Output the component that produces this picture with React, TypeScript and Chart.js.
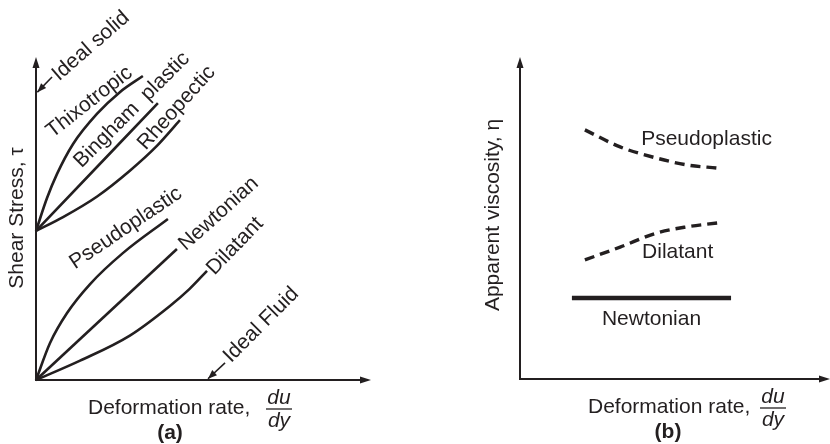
import React, { useEffect, useRef } from "react";
import { Chart, registerables } from "chart.js";
Chart.register(...registerables);

// ---------- Panel (a): shear stress vs deformation rate ----------
const thixotropicX = [0, 0.33, 0.63, 1.11, 1.83, 2.51, 3.2];
const thixotropicY = [4.63, 5.65, 6.4, 7.33, 8.27, 8.94, 9.44];
const binghamX = [0, 3.65];
const binghamY = [4.63, 8.6];
const rheopecticX = [0, 0.81, 1.83, 2.81, 3.62, 4.31];
const rheopecticY = [4.63, 5.06, 5.7, 6.5, 7.27, 8.07];
const pseudoAX = [0, 0.42, 0.93, 1.62, 2.6, 3.95];
const pseudoAY = [0, 1.15, 2.08, 2.98, 3.94, 5.0];
const newtonAX = [0, 4.22];
const newtonAY = [0, 4.07];
const dilatantAX = [0, 1.32, 2.81, 4.01, 4.6, 5.12];
const dilatantAY = [0, 0.6, 1.38, 2.3, 2.83, 3.39];

// ---------- Panel (b): apparent viscosity vs deformation rate ----------
const pseudoBX = [2.1, 3.24, 4.43, 5.4, 6.38];
const pseudoBY = [7.76, 7.23, 6.88, 6.67, 6.57];
const dilatantBX = [2.1, 3.24, 4.43, 5.4, 6.38];
const dilatantBY = [3.71, 4.11, 4.55, 4.74, 4.86];
const newtonBX = [1.68, 6.83];
const newtonBY = [2.52, 2.52];

// Curve labels (a), in data units, rotated
const labelsA = [
  { text: "Ideal solid", x: 1.64, y: 10.37, angle: -41 },
  { text: "Thixotropic", x: 1.6, y: 8.63, angle: -38 },
  { text: "Bingham  plastic", x: 2.87, y: 8.39, angle: -45 },
  { text: "Rheopectic", x: 4.21, y: 8.45, angle: -48 },
  { text: "Pseudoplastic", x: 2.69, y: 4.72, angle: -34 },
  { text: "Newtonian", x: 5.47, y: 5.16, angle: -42 },
  { text: "Dilatant", x: 5.96, y: 4.16, angle: -46 },
  { text: "Ideal Fluid", x: 6.74, y: 1.71, angle: -45 },
];
// Pointer arrows (a): [tailX, tailY, tipX, tipY]
const arrowsA = [
  [0.48, 9.41, 0.04, 8.94],
  [5.66, 0.53, 5.15, 0.04],
];
// Curve labels (b), left aligned
const labelsB = [
  { text: "Pseudoplastic", x: 3.92, y: 7.48, angle: 0 },
  { text: "Dilatant", x: 3.95, y: 3.96, angle: 0 },
  { text: "Newtonian", x: 2.65, y: 1.87, angle: 0 },
];

const INK = "#231f20";
const FONT = "'Liberation Sans', Arial, sans-serif";
const FS = 21;

const pts = (xs: number[], ys: number[]) => xs.map((x, i) => ({ x, y: ys[i] }));

function arrowHead(ctx: CanvasRenderingContext2D, fx: number, fy: number, tx: number, ty: number, len: number, half: number) {
  const a = Math.atan2(ty - fy, tx - fx);
  const bx = tx - Math.cos(a) * len;
  const by = ty - Math.sin(a) * len;
  ctx.beginPath();
  ctx.moveTo(tx, ty);
  ctx.lineTo(bx + Math.sin(a) * half, by - Math.cos(a) * half);
  ctx.lineTo(bx - Math.sin(a) * half, by + Math.cos(a) * half);
  ctx.closePath();
  ctx.fill();
}

type PanelProps = {
  panel: "a" | "b";
  datasets: any[];
  labels: { text: string; x: number; y: number; angle: number }[];
  arrows: number[][];
  yTitle: string;
  yTitleDx: number;
  yTitleY: number;
  xTitleDx: number;
  fracDx: number;
  captionDx: number;
  padding: { left: number; right: number; top: number; bottom: number };
};

function Panel(props: PanelProps) {
  const ref = useRef<HTMLCanvasElement | null>(null);
  useEffect(() => {
    if (!ref.current) return;
    const drawPlugin = {
      id: "decor",
      afterDraw(chart: any) {
        const ctx: CanvasRenderingContext2D = chart.ctx;
        const ca = chart.chartArea;
        const xs = chart.scales.x;
        const ys = chart.scales.y;
        ctx.save();
        ctx.strokeStyle = INK;
        ctx.fillStyle = INK;
        ctx.lineWidth = 2;
        // axes
        ctx.beginPath();
        ctx.moveTo(ca.left, ca.top + 4);
        ctx.lineTo(ca.left, ca.bottom);
        ctx.lineTo(ca.right - 4, ca.bottom);
        ctx.stroke();
        arrowHead(ctx, ca.left, ca.bottom, ca.left, ca.top - 1, 11, 3.5);
        arrowHead(ctx, ca.left, ca.bottom, ca.right + 1, ca.bottom, 11, 3.5);
        // pointer arrows
        ctx.lineWidth = 1.6;
        props.arrows.forEach(([x1, y1, x2, y2]) => {
          const px1 = xs.getPixelForValue(x1), py1 = ys.getPixelForValue(y1);
          const px2 = xs.getPixelForValue(x2), py2 = ys.getPixelForValue(y2);
          ctx.beginPath();
          ctx.moveTo(px1, py1);
          ctx.lineTo(px2, py2);
          ctx.stroke();
          arrowHead(ctx, px1, py1, px2, py2, 9, 3.5);
        });
        // curve labels
        ctx.font = `${FS}px ${FONT}`;
        ctx.textBaseline = "middle";
        props.labels.forEach((l) => {
          const px = xs.getPixelForValue(l.x), py = ys.getPixelForValue(l.y);
          ctx.save();
          ctx.translate(px, py);
          ctx.rotate((l.angle * Math.PI) / 180);
          ctx.textAlign = props.panel === "a" ? "center" : "left";
          ctx.fillText(l.text, 0, 0);
          ctx.restore();
        });
        // y title
        ctx.save();
        ctx.translate(ca.left + props.yTitleDx, props.yTitleY);
        ctx.rotate(-Math.PI / 2);
        ctx.textAlign = "center";
        ctx.fillText(props.yTitle, 0, 0);
        ctx.restore();
        // x title
        const ty = ca.bottom + 28;
        ctx.textAlign = "left";
        ctx.fillText("Deformation rate,", ca.left + props.xTitleDx, ty);
        const fx = ca.left + props.fracDx;
        ctx.font = `italic ${FS}px ${FONT}`;
        ctx.textAlign = "center";
        ctx.fillText("du", fx, ty - 10);
        ctx.fillText("dy", fx, ty + 13);
        ctx.lineWidth = 1.3;
        ctx.beginPath();
        ctx.moveTo(fx - 13, ty + 1);
        ctx.lineTo(fx + 13, ty + 1);
        ctx.stroke();
        ctx.font = `bold ${FS}px ${FONT}`;
        ctx.fillText(`(${props.panel})`, ca.left + props.captionDx, ca.bottom + 53);
        ctx.restore();
      },
    };
    const chart = new Chart(ref.current, {
      type: "line",
      data: { datasets: props.datasets },
      options: {
        animation: false,
        responsive: false,
        events: [],
        layout: { padding: props.padding },
        scales: {
          x: { type: "linear", min: 0, max: 10, display: false },
          y: { type: "linear", min: 0, max: 10, display: false },
        },
        plugins: { legend: { display: false }, tooltip: { enabled: false } },
        elements: { point: { radius: 0 } },
      },
      plugins: [drawPlugin],
    } as any);
    return () => chart.destroy();
  }, []);
  return <canvas ref={ref} width={415} height={444} style={{ display: "block" }} />;
}

const line = (xs: number[], ys: number[], extra: any = {}) => ({
  data: pts(xs, ys),
  borderColor: INK,
  borderWidth: 2.6,
  cubicInterpolationMode: "monotone",
  fill: false,
  clip: false,
  ...extra,
});

export default function App() {
  useEffect(() => {
    document.body.style.margin = "0";
  }, []);
  const dsA = [
    line(thixotropicX, thixotropicY),
    line(binghamX, binghamY),
    line(rheopecticX, rheopecticY),
    line(pseudoAX, pseudoAY),
    line(newtonAX, newtonAY),
    line(dilatantAX, dilatantAY),
  ];
  const dsB = [
    line(pseudoBX, pseudoBY, { borderDash: [10, 6], borderWidth: 3.4 }),
    line(dilatantBX, dilatantBY, { borderDash: [10, 6], borderWidth: 3.4 }),
    line(newtonBX, newtonBY, { borderWidth: 4.5 }),
  ];
  return (
    <div style={{ display: "flex", width: 830, height: 444, background: "#fff" }}>
      <Panel
        panel="a"
        datasets={dsA}
        labels={labelsA}
        arrows={arrowsA}
        yTitle="Shear Stress, τ"
        yTitleDx={-19}
        yTitleY={218}
        xTitleDx={52}
        fracDx={243}
        captionDx={134}
        padding={{ left: 36, right: 45, top: 58, bottom: 64 }}
      />
      <Panel
        panel="b"
        datasets={dsB}
        labels={labelsB}
        arrows={[]}
        yTitle="Apparent viscosity, η"
        yTitleDx={-27}
        yTitleY={215}
        xTitleDx={68}
        fracDx={253}
        captionDx={148}
        padding={{ left: 105, right: 1, top: 58, bottom: 65 }}
      />
    </div>
  );
}
